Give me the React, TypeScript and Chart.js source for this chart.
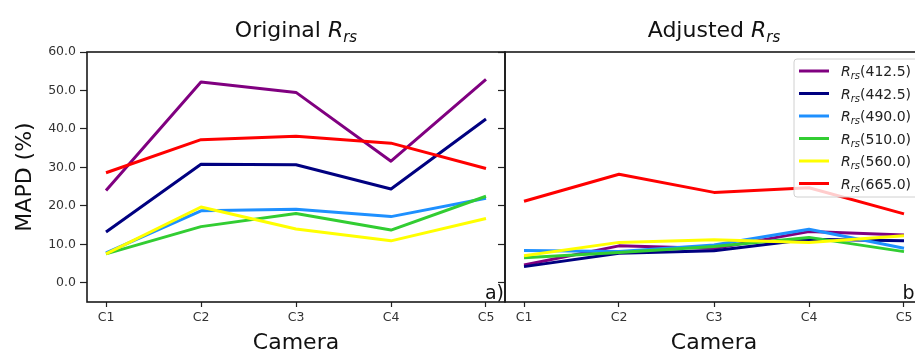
import { useEffect, useRef } from "react";
import { Chart, registerables } from "chart.js";

Chart.register(...registerables);

const cameras = ["C1", "C2", "C3", "C4", "C5"];
const bandLabels = ["412.5", "442.5", "490.0", "510.0", "560.0", "665.0"];
const bandColors = ["#800080", "#000080", "#1E90FF", "#32CD32", "#FFFF00", "#FF0000"];
const yTickValues = [0, 10, 20, 30, 40, 50, 60];

// Original Rrs MAPD (%)
const original412 = [24.0, 52.2, 49.5, 31.6, 52.9];
const original442 = [13.2, 30.8, 30.7, 24.4, 42.6];
const original490 = [7.8, 18.7, 19.1, 17.2, 22.0];
const original510 = [7.5, 14.6, 18.0, 13.7, 22.5];
const original560 = [7.5, 19.7, 14.0, 10.9, 16.7];
const original665 = [28.6, 37.2, 38.1, 36.3, 29.7];

// Adjusted Rrs MAPD (%)
const adjusted412 = [4.6, 9.6, 8.9, 13.3, 12.4];
const adjusted442 = [4.2, 7.7, 8.3, 11.3, 10.9];
const adjusted490 = [8.4, 8.1, 9.8, 13.9, 9.0];
const adjusted510 = [6.5, 7.9, 9.4, 11.8, 8.1];
const adjusted560 = [7.0, 10.5, 11.2, 10.5, 12.2];
const adjusted665 = [21.2, 28.2, 23.5, 24.7, 17.9];

const originalSeries = [original412, original442, original490, original510, original560, original665];
const adjustedSeries = [adjusted412, adjusted442, adjusted490, adjusted510, adjusted560, adjusted665];

const FONT = "'DejaVu Sans', sans-serif";

type Part = { text: string; font: string; dy: number };

function drawRich(ctx: CanvasRenderingContext2D, parts: Part[], x: number, y: number, align: "center" | "left") {
  ctx.textAlign = "left";
  ctx.textBaseline = "alphabetic";
  let total = 0;
  const widths = parts.map((p) => {
    ctx.font = p.font;
    const w = ctx.measureText(p.text).width;
    total += w;
    return w;
  });
  let cx = align === "center" ? x - total / 2 : x;
  parts.forEach((p, i) => {
    ctx.font = p.font;
    ctx.fillText(p.text, cx, y + p.dy);
    cx += widths[i];
  });
}

function drawLegend(ctx: CanvasRenderingContext2D, a: any) {
  const lx = a.left + 289;
  const ly = a.top + 7;
  const lw = 126;
  const lh = 138;
  ctx.save();
  ctx.beginPath();
  const r = 3;
  ctx.moveTo(lx + r, ly);
  ctx.lineTo(lx + lw - r, ly);
  ctx.quadraticCurveTo(lx + lw, ly, lx + lw, ly + r);
  ctx.lineTo(lx + lw, ly + lh - r);
  ctx.quadraticCurveTo(lx + lw, ly + lh, lx + lw - r, ly + lh);
  ctx.lineTo(lx + r, ly + lh);
  ctx.quadraticCurveTo(lx, ly + lh, lx, ly + lh - r);
  ctx.lineTo(lx, ly + r);
  ctx.quadraticCurveTo(lx, ly, lx + r, ly);
  ctx.closePath();
  ctx.fillStyle = "rgba(255,255,255,0.8)";
  ctx.fill();
  ctx.strokeStyle = "#d0d0d0";
  ctx.lineWidth = 1;
  ctx.stroke();
  bandLabels.forEach((b, i) => {
    const cy = ly + 12 + 22.5 * i;
    ctx.beginPath();
    ctx.moveTo(lx + 5, cy);
    ctx.lineTo(lx + 35, cy);
    ctx.strokeStyle = bandColors[i];
    ctx.lineWidth = 3;
    ctx.stroke();
    ctx.fillStyle = "#222";
    drawRich(
      ctx,
      [
        { text: "R", font: `italic 14px ${FONT}`, dy: 0 },
        { text: "rs", font: `italic 10px ${FONT}`, dy: 3 },
        { text: `(${b})`, font: `14px ${FONT}`, dy: 0 },
      ],
      lx + 47,
      cy + 5,
      "left"
    );
  });
  ctx.restore();
}

function panelPlugin(title: string, letter: string, withLegend: boolean) {
  return {
    id: "panel" + letter.replace(")", ""),
    afterDatasetsDraw(chart: any) {
      const { ctx, chartArea: a } = chart;
      ctx.save();
      ctx.strokeStyle = "#1a1a1a";
      ctx.lineWidth = 1.6;
      ctx.strokeRect(a.left, a.top, a.right - a.left, a.bottom - a.top);
      ctx.fillStyle = "#111";
      ctx.font = `19px ${FONT}`;
      ctx.textAlign = "right";
      ctx.textBaseline = "alphabetic";
      ctx.fillText(letter, a.right - 1, a.bottom - 3);
      ctx.fillStyle = "#111";
      drawRich(
        ctx,
        [
          { text: title + " ", font: `22px ${FONT}`, dy: 0 },
          { text: "R", font: `italic 22px ${FONT}`, dy: 0 },
          { text: "rs", font: `italic 15px ${FONT}`, dy: 4.5 },
        ],
        (a.left + a.right) / 2,
        37,
        "center"
      );
      if (withLegend) drawLegend(ctx, a);
      ctx.restore();
    },
  };
}

function makeConfig(series: number[][], side: "left" | "right"): any {
  const isLeft = side === "left";
  return {
    type: "line",
    data: {
      datasets: series.map((vals, i) => ({
        label: `Rrs(${bandLabels[i]})`,
        data: vals.map((v, j) => ({ x: j, y: v })),
        borderColor: bandColors[i],
        backgroundColor: bandColors[i],
        borderWidth: 3,
        pointRadius: 0,
        tension: 0,
        fill: false,
        borderJoinStyle: "round",
        order: series.length - i,
      })),
    },
    options: {
      responsive: false,
      animation: false,
      devicePixelRatio: 1,
      events: [],
      layout: { padding: { left: 0, right: isLeft ? 5 : 7, top: 52, bottom: 0 } },
      plugins: {
        legend: { display: false },
        tooltip: { enabled: false },
        title: { display: false },
      },
      scales: {
        x: {
          type: "linear",
          min: -0.2,
          max: 4.2,
          afterBuildTicks: (s: any) => {
            s.ticks = cameras.map((_, i) => ({ value: i }));
          },
          ticks: {
            callback: (v: any) => cameras[Math.round(Number(v))] ?? "",
            font: { family: FONT, size: 12.5 },
            color: "#333",
            padding: 3,
            autoSkip: false,
            maxRotation: 0,
          },
          grid: { drawOnChartArea: false, drawTicks: true, tickLength: 5, tickColor: "#222", tickWidth: 1.2 },
          border: { display: false },
          title: {
            display: true,
            text: "Camera",
            font: { family: FONT, size: 22 },
            color: "#111",
            padding: { top: 0, bottom: 0 },
          },
          afterFit: (s: any) => {
            s.height = 54;
          },
        },
        y: {
          type: "linear",
          min: -5,
          max: 60,
          afterBuildTicks: (s: any) => {
            s.ticks = yTickValues.map((v) => ({ value: v }));
          },
          ticks: {
            display: isLeft,
            callback: (v: any) => Number(v).toFixed(1),
            font: { family: FONT, size: 12.5 },
            color: "#333",
            padding: 4,
          },
          grid: { drawOnChartArea: false, drawTicks: true, tickLength: 7, tickColor: "#222", tickWidth: 1.2 },
          border: { display: false },
          title: {
            display: isLeft,
            text: "MAPD (%)",
            font: { family: FONT, size: 22 },
            color: "#111",
            padding: { top: 12, bottom: 0 },
          },
          afterFit: (s: any) => {
            s.width = isLeft ? 87 : 10;
          },
        },
      },
    },
    plugins: [
      isLeft ? panelPlugin("Original", "a)", false) : panelPlugin("Adjusted", "b)", true),
    ],
  };
}

export default function App() {
  const leftRef = useRef<HTMLCanvasElement | null>(null);
  const rightRef = useRef<HTMLCanvasElement | null>(null);

  useEffect(() => {
    if (!leftRef.current || !rightRef.current) return;
    const c1 = new Chart(leftRef.current, makeConfig(originalSeries, "left"));
    const c2 = new Chart(rightRef.current, makeConfig(adjustedSeries, "right"));
    return () => {
      c1.destroy();
      c2.destroy();
    };
  }, []);

  return (
    <div
      style={{
        position: "fixed",
        left: 0,
        top: 0,
        width: 915,
        height: 356,
        overflow: "hidden",
        background: "#fff",
      }}
    >
      <canvas
        ref={leftRef}
        width={510}
        height={356}
        style={{ position: "absolute", left: 0, top: 0, width: 510, height: 356 }}
      />
      <canvas
        ref={rightRef}
        width={435}
        height={356}
        style={{ position: "absolute", left: 495, top: 0, width: 435, height: 356 }}
      />
    </div>
  );
}
